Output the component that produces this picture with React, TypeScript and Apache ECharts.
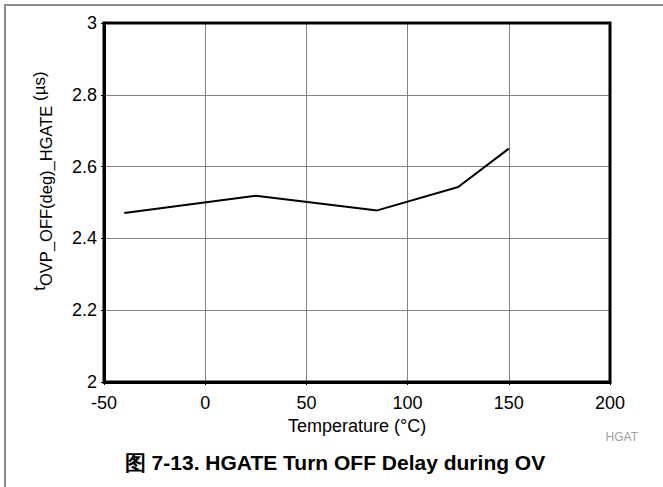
import React, { useEffect, useRef } from "react";
import * as echarts from "echarts";

const temperatures = [-40, 25, 85, 125, 150];
const delayValues = [2.471, 2.519, 2.478, 2.543, 2.65];
const xTicks = { min: -50, max: 200, interval: 50 };
const yTicks = { min: 2, max: 3, interval: 0.2 };
const captionText = "图 7-13. HGATE Turn OFF Delay during OV";
const xTitle = "Temperature (°C)";
const yTitleMain = "t";
const yTitleSub = "OVP_OFF(deg)_HGATE";
const yTitleUnit = " (µs)";
const tagText = "HGAT";

export default function App() {
  const ref = useRef<HTMLDivElement>(null);
  useEffect(() => {
    if (!ref.current) return;
    const chart = echarts.init(ref.current, null, { renderer: "svg" });
    const font = "'Liberation Sans', Arial, sans-serif";
    chart.setOption({
      animation: false,
      backgroundColor: "#ffffff",
      textStyle: { fontFamily: font },
      grid: { left: 104, top: 23, right: 53, bottom: 105, containLabel: false },
      xAxis: {
        type: "value",
        min: xTicks.min,
        max: xTicks.max,
        interval: xTicks.interval,
        name: xTitle,
        nameLocation: "middle",
        nameGap: 32,
        nameTextStyle: { fontSize: 18, color: "#000", fontFamily: font },
        axisLine: { show: true, onZero: false, lineStyle: { color: "#000", width: 3 } },
        axisTick: { show: true, length: 3, lineStyle: { color: "#000" } },
        axisLabel: { fontSize: 18, color: "#000", margin: 12, fontFamily: font },
        splitLine: { show: true, lineStyle: { color: "#808080", width: 1 } },
      },
      yAxis: {
        type: "value",
        min: yTicks.min,
        max: yTicks.max,
        interval: yTicks.interval,
        axisLine: { show: true, onZero: false, lineStyle: { color: "#000", width: 3 } },
        axisTick: { show: true, length: 3, lineStyle: { color: "#000" } },
        axisLabel: {
          fontSize: 18,
          color: "#000",
          margin: 7,
          fontFamily: font,
          formatter: (v: number) => String(Math.round(v * 10) / 10),
        },
        splitLine: { show: true, lineStyle: { color: "#808080", width: 1 } },
      },
      graphic: [
        {
          type: "rect",
          shape: { x: 5, y: 5, width: 700, height: 600 },
          style: { fill: "none", stroke: "#8a8a8a", lineWidth: 2 },
          silent: true,
        },
        {
          type: "rect",
          shape: { x: 104, y: 23, width: 506, height: 359 },
          style: { fill: "none", stroke: "#000", lineWidth: 3 },
          silent: true,
          z: 10,
        },
        {
          type: "text",
          x: 46,
          y: 181,
          rotation: Math.PI / 2,
          style: {
            text: "{t|" + yTitleMain + "}{s|" + yTitleSub + "}{t|" + yTitleUnit + "}",
            align: "center",
            verticalAlign: "middle",
            fontFamily: font,
            fill: "#000",
            rich: {
              t: { fontSize: 17, lineHeight: 18, verticalAlign: "top", fill: "#000", fontFamily: font },
              s: { fontSize: 16.5, lineHeight: 30, verticalAlign: "middle", fill: "#000", fontFamily: font },
            },
          },
        },
        {
          type: "text",
          x: 638,
          y: 437,
          style: {
            text: tagText,
            fontSize: 12,
            fill: "#a0a0a0",
            fontFamily: font,
            align: "right",
            verticalAlign: "middle",
          },
        },
        {
          type: "text",
          x: 335,
          y: 462,
          style: {
            text: captionText,
            fontSize: 21,
            fontWeight: "bold",
            fill: "#000",
            fontFamily: font,
            align: "center",
            verticalAlign: "middle",
          },
        },
      ],
      series: [
        {
          type: "line",
          data: temperatures.map((t, i) => [t, delayValues[i]]),
          showSymbol: false,
          symbol: "none",
          lineStyle: { color: "#000", width: 2 },
          z: 5,
        },
      ],
    });
    return () => chart.dispose();
  }, []);
  return <div ref={ref} style={{ width: 663, height: 487, position: "absolute", left: 0, top: 0 }} />;
}
